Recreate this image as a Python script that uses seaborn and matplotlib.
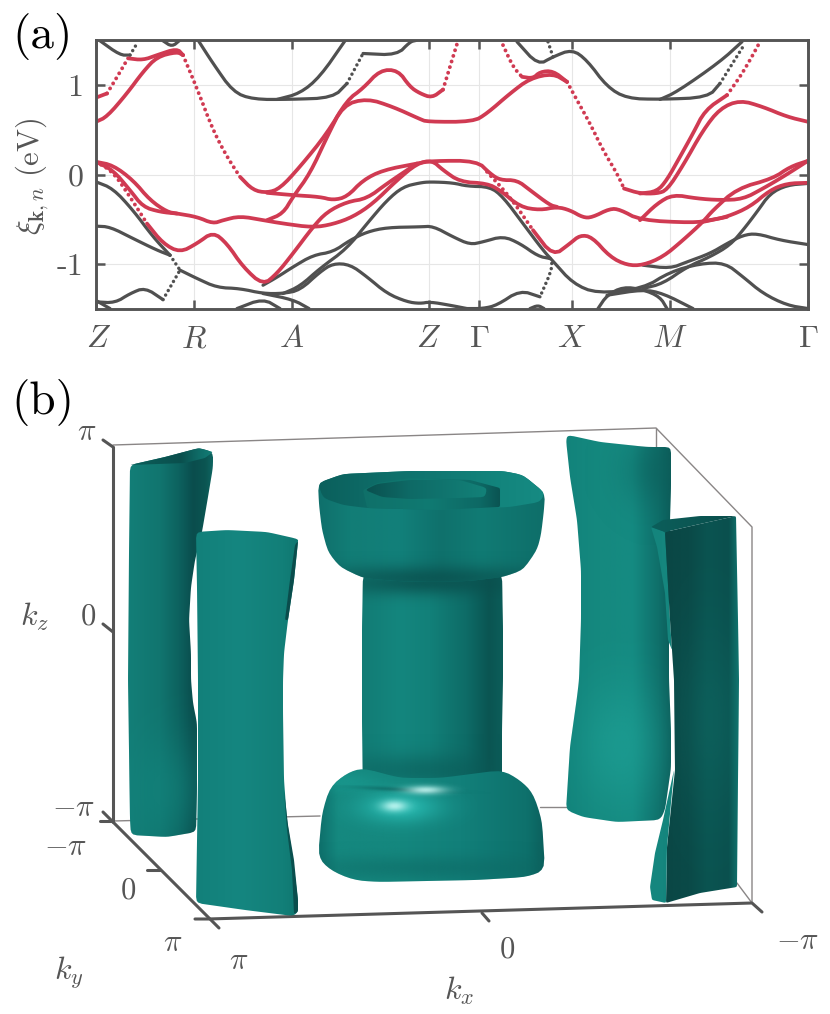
import numpy as np
import pandas as pd
import matplotlib
matplotlib.use("Agg")
import matplotlib.pyplot as plt
from matplotlib.patches import Polygon
from matplotlib.colors import to_rgb
from matplotlib.transforms import ScaledTranslation
import seaborn as sns

sns.set_theme(style="white")
plt.rcParams["mathtext.fontset"] = "cm"
plt.rcParams["font.family"] = ["cmr10", "DejaVu Sans"]
plt.rcParams["axes.formatter.use_mathtext"] = True

# ---------- panel (a): bands as (k, xi in eV) ----------
k_ticks = [0, 98, 196, 333, 383, 476, 574, 712]
k_labels = [r"$Z$", r"$R$", r"$A$", r"$Z$", r"$\Gamma$", r"$X$", r"$M$", r"$\Gamma$"]
xi_ticks = [-1, 0, 1]
xi_labels = ["-1", "0", "1"]

gray_a = [(0,-.082),(17,-.157),(37,-.399),(57,-.698),(74,-.903)]
gray_b = [(0,-.578),(14,-.586),(37,-.716),(61,-.847),(74,-.903)]
gray_c = [(84,-1.07),(101,-1.164),(121,-1.265),(144,-1.276),(167,-1.332),(187,-1.332),(204,-1.295),(224,-1.09),(237,-.996),(254,-1.007),(271,-1.145),(291,-1.332),(311,-1.425),(324,-1.444),(334,-1.425),(354,-1.463),(371,-1.5)]
gray_d = [(167,-1.239),(181,-1.15),(197,-1.034),(217,-.903),(237,-.866),(254,-.735),(271,-.642),(291,-.593),(324,-.586),(337,-.578),(357,-.698),(374,-.784),(387,-.754),(407,-.69),(424,-.772),(442,-.914),(454,-.94)]
gray_e = [(187,-1.332),(204,-1.25),(224,-1.05),(251,-.828),(271,-.549),(291,-.287),(307,-.138),(324,-.093),(334,-.082),(357,-.093),(371,-.131),(394,-.138),(407,-.25),(427,-.549),(447,-.847),(457,-.97),(477,-1.22),(501,-1.332),(547,-1.276),(574,-1.09),(604,-.996),(629,-.989),(647,-1.145),(667,-1.332),(691,-1.463),(712,-1.5)]
gray_f = [(547,-1.015),(574,-1.052),(591,-.978),(614,-.884),(631,-.772),(647,-.679),(661,-.66),(684,-.735),(712,-.784)]
gray_g = [(547,-1.276),(567,-1.22),(591,-1.034),(614,-.922),(634,-.791),(647,-.623),(661,-.418),(674,-.213),(691,-.119),(712,-.1)]
gray_h = [(502,-1.5),(511,-1.351),(527,-1.257),(547,-1.287),(564,-1.369),(571,-1.5)]
gray_i = [(511,-1.351),(547,-1.287),(567,-1.33),(597,-1.5)]
gray_j = [(0,-1.425),(19,-1.437),(34,-1.332),(49,-1.265),(67,-1.4)]
gray_k = [(0,-1.41),(14,-1.5)]
gray_l = [(141,-1.5),(167,-1.388),(184,-1.5)]
gray_m = [(167,-1.332),(197,-1.4),(213,-1.5)]
gray_n = [(4,1.496),(24,1.336),(34,1.336)]
gray_o = [(67,1.496),(76,1.429),(84,1.504)]
gray_p = [(102,1.504),(117,1.243),(137,.925),(157,.84),(194,.84),(237,.858),(251,1.019)]
gray_q = [(181,.84),(204,.907),(224,1.093),(249,1.496)]
gray_r = [(267,1.354),(301,1.336),(314,1.485),(320,1.5)]
gray_s = [(421,1.485),(442,1.224),(457,1.317),(476,1.4),(491,1.28),(511,.981),(531,.851),(564,.84),(612,.862),(624,1.019)]
gray_t = [(564,.84),(581,.925),(624,1.261),(646,1.485)]
gray_u = [(371,-1.5),(387,-1.5),(401,-1.463),(424,-1.295),(444,-1.369)]
gray_v = [(434,-1.5),(442,-1.463),(448,-1.5)]
gray_solid = [gray_a, gray_b, gray_c, gray_d, gray_e, gray_f, gray_g, gray_h, gray_i, gray_j,
              gray_k, gray_l, gray_m, gray_n, gray_o, gray_p, gray_q, gray_r, gray_s, gray_t, gray_u, gray_v]

gdot_a = [(74,-.903),(84,-1.07)]
gdot_b = [(67,-1.4),(84,-1.07)]
gdot_c = [(34,1.336),(42,1.485)]
gdot_d = [(251,1.019),(267,1.354)]
gdot_e = [(454,-.94),(457,-1.034),(444,-1.369)]
gdot_f = [(457,1.317),(452,1.485)]
gdot_g = [(624,1.019),(649,1.466)]
gray_dotted = [gdot_a, gdot_b, gdot_c, gdot_d, gdot_e, gdot_f, gdot_g]

red_a = [(0,.86),(11,.907)]
red_b = [(32,1.30),(47,1.28),(61,1.336),(81,1.41),(87,1.336)]
red_c = [(0,.59),(11,.646),(31,.907),(47,1.149),(61,1.317),(81,1.373),(87,1.336)]
red_d = [(144,-.026),(157,-.175),(171,-.205),(184,-.157),(204,.086),(231,.459),(251,.832),(267,.963),(284,1.168),(302,1.168),(314,.98),(324,.907),(336,.858),(347,.95)]
red_e = [(171,-.511),(187,-.437),(197,-.25),(214,.011),(231,.42),(247,.776),(271,.851),(297,.757),(324,.62),(331,.59),(377,.59),(391,.683),(414,.907),(434,1.075),(457,1.13),(471,1.037)]
red_f = [(0,.142),(17,.104),(37,-.063),(54,-.287),(71,-.418),(81,-.437),(101,-.474),(117,-.549),(127,-.511),(144,-.466),(167,-.511),(187,-.549),(217,-.593),(237,-.556),(257,-.474),(277,-.325),(301,-.063),(321,.123),(336,.16),(347,.049),(364,-.082),(391,-.1),(404,-.175),(424,-.362),(444,-.399),(461,-.362),(474,-.399),(487,-.481),(496,-.481),(514,-.381),(524,-.392),(544,-.511),(597,-.541),(614,-.511),(631,-.474),(654,-.362),(674,-.175),(691,-.1),(712,-.093)]
red_g = [(0,.142),(17,.049),(34,-.175),(47,-.362),(64,-.418),(81,-.437)]
red_h = [(51,-.549),(67,-.772),(84,-.873),(101,-.772),(117,-.642),(131,-.772),(147,-1.034),(167,-1.239),(181,-1.108),(197,-.884),(217,-.586),(231,-.418),(251,-.306),(271,-.269),(291,-.101),(321,.123)]
red_i = [(171,-.205),(197,-.231),(224,-.25),(237,-.287),(251,-.25),(267,-.063),(287,.049),(321,.123),(336,.153),(381,.153),(394,.011),(404,-.063),(421,-.063),(434,-.175),(454,-.343),(461,-.362)]
red_j = [(437,-.623),(457,-.914),(474,-.772),(484,-.679),(496,-.698),(514,-.922),(531,-1.015),(547,-1.015),(567,-.922),(587,-.735),(607,-.53),(617,-.399),(641,-.157),(677,-.045),(694,.086),(712,.153)]
red_k = [(544,-.511),(561,-.325),(577,-.224),(601,-.269),(624,-.287),(647,-.276),(667,-.157),(687,-.026),(712,.153)]
red_l = [(607,-.53),(631,-.474)]
red_m = [(426,1.093),(437,1.075),(444,1.149),(457,1.16),(471,1.037)]
red_n = [(528,-.157),(544,-.213),(561,-.213),(571,-.175),(587,.1),(607,.496),(624,.739),(644,.832),(667,.757),(691,.646),(712,.59)]
red_o = [(544,-.213),(561,-.19),(571,-.06),(584,.198),(597,.459),(609,.72),(631,.888)]
red_solid = [red_a, red_b, red_c, red_d, red_e, red_f, red_g, red_h, red_i, red_j, red_k, red_l, red_m, red_n, red_o]

rdot_a = [(11,.907),(21,1.09),(32,1.30)]
rdot_b = [(87,1.336),(101,.963),(117,.496),(131,.198),(144,-.026)]
rdot_c = [(347,.95),(356,1.28),(362,1.496)]
rdot_d = [(0,.142),(17,.03),(34,-.25),(51,-.549)]
rdot_e = [(391,.03),(414,-.25),(437,-.623)]
rdot_f = [(407,1.448),(417,1.205),(426,1.093)]
rdot_g = [(471,1.037),(481,.832),(494,.571),(507,.272),(521,.011),(528,-.157)]
rdot_h = [(631,.888),(644,1.093),(654,1.28),(664,1.485)]
red_dotted = [rdot_a, rdot_b, rdot_c, rdot_d, rdot_e, rdot_f, rdot_g, rdot_h]

# ---------- panel (b): outlines in picture coordinates ----------
tube_a = [(130,465),(165,457),(199,448),(213,452),(213,467),(208,497),(202,532),(195,560),(191,587),(189,620),(191,653),(191,680),(193,703),(197,723),(197,790),(196,832),(167,837),(131,835),(130,820),(129,750),(128,680),(129,553)]
tube_a_cap = [(130,465),(165,457),(199,448),(213,452),(205,458),(185,463)]
tube_b = [(196,532),(227,530),(267,532),(298,539),(298,542),(294,580),(288,620),(284,653),(283,680),(283,713),(284,780),(287,820),(293,860),(298,900),(298,912),(293,916),(245,910),(196,903),(198,780),(198,680),(197,587)]
tube_b_edge = [(298,541),(294,580),(288,620),(285,620),(290,580),(295,545)]
tube_b_edge2 = [(284,790),(288,825),(294,860),(298,900),(298,912),(294,914),(292,870),(287,830)]
stem = [(363,575),(502,575),(503,627),(503,680),(502,730),(502,795),(363,795),(362,723),(362,680),(362,627)]
bowl = [(318,483),(343,474),(410,471),(503,471),(523,475),(545,493),(544,510),(541,535),(537,550),(523,570),(503,577),(470,581),(430,582),(395,581),(363,578),(340,567),(328,552),(322,530),(319,505)]
bowl_in = [(318,483),(343,474),(410,471),(503,471),(523,475),(545,493),(540,502),(510,507),(440,510),(367,508),(343,505),(323,498)]
ring_wall = [(363,490),(377,483),(410,478),(470,480),(500,488),(500,507),(440,510),(367,508)]
ring_top = [(365,490),(377,484),(410,480),(460,480),(487,488),(485,497),(460,498),(410,499),(382,497)]
base = [(363,768),(347,773),(330,787),(322,813),(318,857),(330,870),(353,880),(377,882),(477,880),(527,877),(545,870),(542,820),(533,793),(520,780),(502,770),(440,778),(400,778)]
tube_c = [(568,435),(600,442),(647,447),(671,447),(671,487),(670,520),(669,637),(669,680),(671,730),(671,768),(665,810),(660,820),(617,822),(583,817),(566,810),(570,747),(577,697),(579,680),(581,620),(581,570),(577,520),(570,477),(566,440)]
tube_d = [(665,532),(700,524),(736,516),(738,620),(739,680),(738,780),(737,887),(700,893),(666,903),(667,847),(675,770),(674,680),(670,620)]
tube_d_cap = [(651,527),(663,520),(700,516),(736,516),(700,524),(665,532)]
sliver_top = [(651,527),(665,532),(670,620),(672,650),(668,640),(665,593),(657,547)]
sliver_low = [(674,770),(667,847),(666,903),(652,900),(650,887),(655,853),(663,820)]

axis_dark = [[(113,447),(113,822)], [(103,440),(113,447)], [(103,624),(113,632)], [(100,821),(113,821)],
             [(103,812),(219,928)], [(147,870),(160,870)], [(195,919),(208,919),(752,903),(762,912)],
             [(482,913),(489,921)]]
box_thin = [[(113,445),(656,428),(752,527),(752,903)], [(656,428),(656,447)],
            [(113,821),(320,816)], [(540,807),(566,807)], [(737,883),(752,903)]]

text_marks = [(87,432,r"$\pi$"),(88,617,r"$0$"),(74,808,r"$-\pi$"),(66,847,r"$-\pi$"),
              (128,891,r"$0$"),(173,943,r"$\pi$"),(239,961,r"$\pi$"),(507,950,r"$0$"),(798,941,r"$-\pi$")]
axis_names = [(35,617,r"$k_z$"),(69,973,r"$k_y$"),(459,991,r"$k_x$")]

GRAY = "#555555"
RED = "#d03a52"

fig = plt.figure(figsize=(8.30, 10.14), dpi=100)
W, H = 830, 1014

# ------------- panel (a) -------------
ax = fig.add_axes([96/W, 1-309/H, 712/W, 269/H])
ax.set_facecolor("white")


def rounded(points, rounds=2):
    """Round the polyline's joins when stroking; the end points stay where they are."""
    p = np.array(points, float)
    if len(p) < 3:
        return p
    for _ in range(rounds):
        q = [p[0]]
        for a, b in zip(p[:-1], p[1:]):
            q += [.75*a+.25*b, .25*a+.75*b]
        q.append(p[-1])
        p = np.array(q)
    return p


def band(points, color, dotted, lw):
    df = pd.DataFrame(rounded(points), columns=["k", "xi"])
    if dotted:
        sns.lineplot(data=df, x="k", y="xi", ax=ax, sort=False, estimator=None, color=color,
                     linewidth=lw, linestyle=(0, (0.01, 1.5)), dash_capstyle="round", legend=False)
    else:
        sns.lineplot(data=df, x="k", y="xi", ax=ax, sort=False, estimator=None, color=color,
                     linewidth=lw, solid_capstyle="round", solid_joinstyle="round", legend=False)


for b in gray_solid:
    band(b, "#505050", False, 2.3)
for b in gray_dotted:
    band(b, "#505050", True, 2.5)
for b in red_solid:
    band(b, RED, False, 2.7)
for b in red_dotted:
    band(b, RED, True, 2.8)

ax.set_xlim(0, 712)
ax.set_ylim(-1.505, 1.505)
ax.set_xticks(k_ticks)
ax.set_xticklabels(k_labels, fontsize=23, color=GRAY)
ax.set_yticks(xi_ticks)
ax.set_yticklabels(xi_labels, fontsize=23, color=GRAY)
ax.set_xlabel("")
ax.set_ylabel("")
ax.grid(True, color="#e6e6e6", linewidth=0.8)
ax.set_axisbelow(True)
ax.tick_params(direction="in", length=6.5, width=1.8, color=GRAY, top=True, right=True,
               bottom=True, left=True)
ax.tick_params(axis="x", pad=12)
ax.tick_params(axis="y", pad=9)
for s in ax.spines.values():
    s.set_color(GRAY)
    s.set_linewidth(2.1)
    s.set_visible(True)
first = ax.get_xticklabels()[0]
first.set_transform(first.get_transform() + ScaledTranslation(3/100, 0, fig.dpi_scale_trans))

# ------------- overlay, panel (b) -------------
ov = fig.add_axes([0, 0, 1, 1], zorder=3)
ov.patch.set_alpha(0)
ov.axis("off")


def soften(points, r=3.0, rounds=2):
    p = np.array(points, float)
    for _ in range(rounds):
        out = []
        n = len(p)
        for i in range(n):
            a, b, c = p[i-1], p[i], p[(i+1) % n]
            d1 = min(.25*np.linalg.norm(a-b), r)
            d2 = min(.25*np.linalg.norm(c-b), r)
            u1 = (a-b)/max(np.linalg.norm(a-b), 1e-6)
            u2 = (c-b)/max(np.linalg.norm(c-b), 1e-6)
            out += [b+u1*d1, b+u2*d2]
        p = np.array(out)
    return p


def shaded(points, stops, z, r=3.0):
    poly = Polygon(soften(points, r), closed=True, fc="none", ec="none", transform=ov.transData)
    ov.add_patch(poly)
    xy = np.array(points, float)
    x0, x1, y0, y1 = xy[:, 0].min(), xy[:, 0].max(), xy[:, 1].min(), xy[:, 1].max()
    xs = np.linspace(x0, x1, 300)
    sx = [s[0] for s in stops]
    cs = np.array([to_rgb(s[1]) for s in stops])
    img = np.stack([np.interp(xs, sx, cs[:, i]) for i in range(3)], axis=-1)[None, :, :]
    im = ov.imshow(img, extent=(x0-1, x1+1, y1+1, y0-1), aspect="auto", interpolation="bilinear", zorder=z)
    im.set_clip_path(poly)
    return poly


def blob(clip, cx, cy, sx, sy, color, alpha, z, angle=0.0):
    x = np.linspace(cx-3*sx, cx+3*sx, 120)
    y = np.linspace(cy-3*sy, cy+3*sy, 120)
    X, Y = np.meshgrid(x, y)
    dy = (Y-cy) - angle*(X-cx)
    a = alpha*np.exp(-.5*((X-cx)/sx)**2 - .5*(dy/sy)**2)
    rgba = np.zeros(a.shape+(4,))
    rgba[..., :3] = to_rgb(color)
    rgba[..., 3] = a
    im = ov.imshow(rgba, extent=(x[0], x[-1], y[-1], y[0]), aspect="auto", interpolation="bilinear", zorder=z)
    im.set_clip_path(clip)


def seg(points, color, lw, z):
    df = pd.DataFrame(points, columns=["x", "y"])
    sns.lineplot(data=df, x="x", y="y", ax=ov, sort=False, estimator=None, color=color,
                 linewidth=lw, solid_capstyle="round", legend=False, zorder=z)


for s in box_thin:
    seg(s, "#8a8686", 1.0, 1)
for s in axis_dark:
    seg(s, "#555555", 2.2, 1.5)

# back-left tube
p = shaded(tube_a, [(128, "#137f78"), (160, "#11756f"), (178, "#0d625f"), (192, "#0a4d4d"), (204, "#0b5552"), (213, "#0f6a65")], 2)
blob(p, 165, 790, 30, 40, "#13877f", .55, 2.1)
p = shaded(tube_a_cap, [(130, "#0c5f5b"), (180, "#0a4f4d"), (199, "#0f6e69"), (213, "#138078")], 2.2, r=1)
# front-left tube
p = shaded(tube_b, [(196, "#12807a"), (240, "#158680"), (283, "#127f78"), (298, "#0f7670")], 3)
shaded(tube_b_edge, [(285, "#0a4d4c"), (298, "#0a4d4c")], 3.1, r=1)
shaded(tube_b_edge2, [(284, "#0a5452"), (298, "#0a4d4c")], 3.1, r=1)
# centre: stem, bowl, rings, base
p = shaded(stem, [(362, "#127c75"), (400, "#14867e"), (430, "#128079"), (465, "#0e6c67"), (488, "#0a5552"), (503, "#0c5f5b")], 2)
blob(p, 430, 583, 70, 9, "#0a4f4d", .8, 2.1)
blob(p, 430, 770, 70, 12, "#0a5956", .55, 2.1)
p = shaded(bowl, [(318, "#0f6f6b"), (350, "#127d76"), (400, "#12807a"), (440, "#0f716c"), (480, "#117b74"), (545, "#0e6e69")], 2.5, r=4)
blob(p, 430, 578, 90, 9, "#0a4f4d", .75, 2.6)
p = shaded(bowl_in, [(318, "#0b5f5c"), (400, "#0f716c"), (500, "#13857d"), (545, "#168b83")], 2.7)
shaded(ring_wall, [(363, "#0f7069"), (430, "#107a72"), (480, "#0d6864"), (500, "#0a5250")], 2.8, r=1)
shaded(ring_top, [(365, "#0a4f4e"), (410, "#0e6a66"), (487, "#138279")], 2.9, r=2)
p = shaded(base, [(318, "#0d6d69"), (338, "#15887f"), (400, "#15887f"), (460, "#12807a"), (525, "#0e716c"), (545, "#0b5e5b")], 2.4, r=6)
blob(p, 345, 782, 22, 7, "#1a9a90", .7, 2.41)
blob(p, 400, 807, 28, 11, "#2fcfc6", .7, 2.42)
blob(p, 394, 806, 9, 4, "#c8fbf6", .85, 2.43)
blob(p, 425, 790, 14, 3, "#c8fbf6", .85, 2.43)
blob(p, 400, 790, 30, 1.5, "#0b5a57", .6, 2.42, angle=.05)
blob(p, 430, 868, 110, 9, "#0c6460", .45, 2.41)
# back-right tube
p = shaded(tube_c, [(566, "#12837b"), (600, "#15897f"), (632, "#158b82"), (658, "#0f6f6a"), (671, "#0c5c59")], 2)
blob(p, 620, 745, 30, 45, "#1fa398", .6, 2.1)
blob(p, 660, 470, 25, 25, "#0c5d5a", .5, 2.1)
# front-right tube
shaded(sliver_top, [(651, "#14857d"), (672, "#16877f")], 3.5, r=1)
p = shaded(tube_d, [(665, "#0a4745"), (690, "#0a4a48"), (708, "#0b5451"), (728, "#0a504e"), (738, "#117570")], 3.6, r=1)
blob(p, 710, 720, 25, 70, "#127a72", .3, 3.61)
shaded(tube_d_cap, [(651, "#0c5f5b"), (700, "#0b5552"), (736, "#0a4d4b")], 3.7, r=1)
shaded(sliver_low, [(650, "#16877f"), (675, "#14857d")], 3.7, r=1)

# texts
for x, y, s in text_marks:
    ov.text(x, y, s, fontsize=22, color=GRAY, ha="center", va="center", zorder=6)
for x, y, s in axis_names:
    ov.text(x, y, s, fontsize=23, color=GRAY, ha="center", va="center", zorder=6)
ov.text(43, 36, "(a)", fontsize=34, color="black", ha="center", va="center", zorder=6)
ov.text(43, 403, "(b)", fontsize=34, color="black", ha="center", va="center", zorder=6)
ov.text(32, 176, r"$\xi_{\mathbf{k},n}\ \mathrm{(eV)}$", fontsize=22, color=GRAY, rotation=90,
        ha="center", va="center", zorder=6)

ov.set_xlim(0, W)
ov.set_ylim(H, 0)
ov.set_xlabel("")
ov.set_ylabel("")
ov.axis("off")

fig.savefig("out.png", dpi=100)
